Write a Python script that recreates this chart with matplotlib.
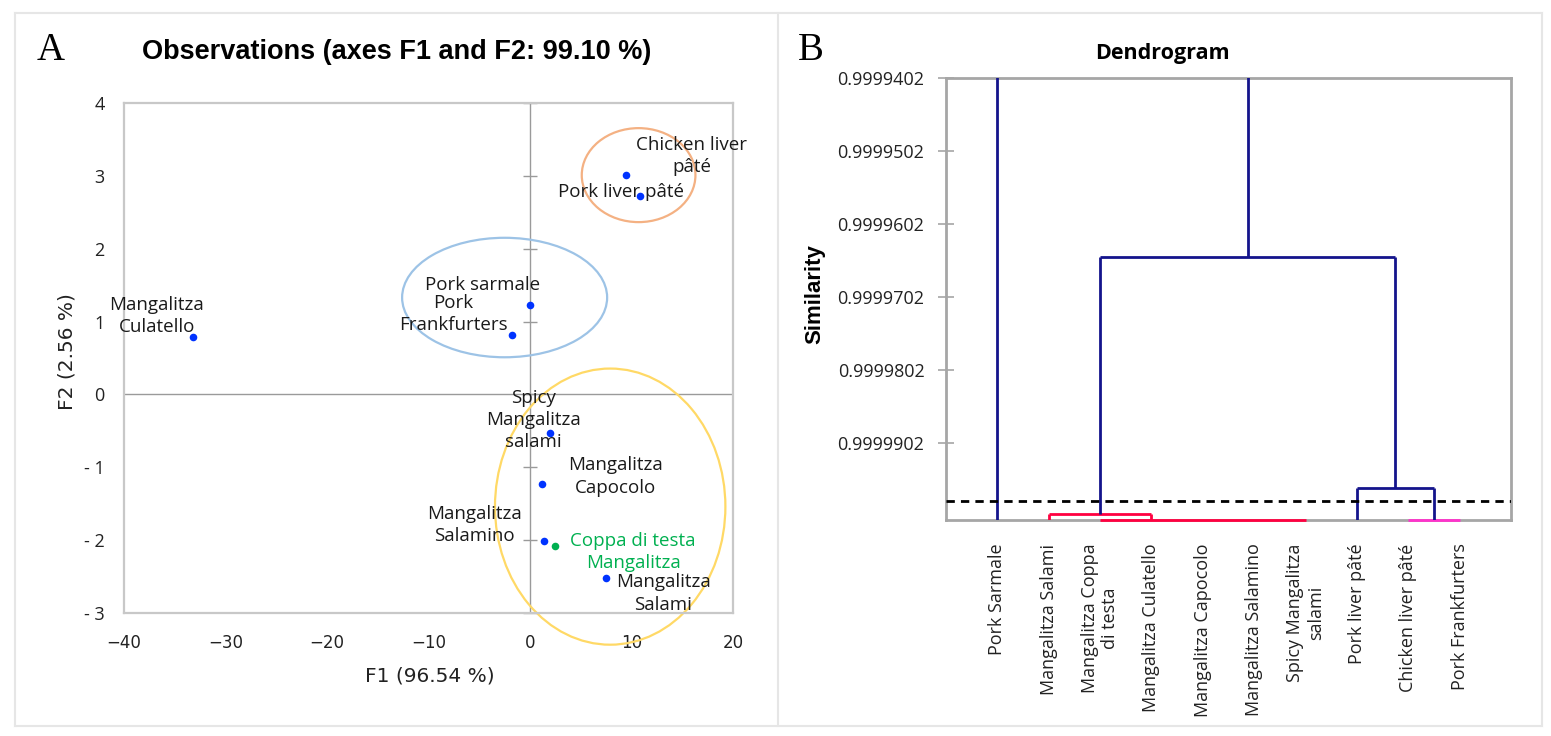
import matplotlib
matplotlib.use("Agg")
import matplotlib.pyplot as plt
from matplotlib.patches import Ellipse
from matplotlib.lines import Line2D

# ---------------- data ----------------
obs_names = ["Mangalitza\nCulatello", "Pork sarmale", "Pork\nFrankfurters",
             "Chicken liver\npâté", "Pork liver pâté", "Spicy\nMangalitza\nsalami",
             "Mangalitza\nCapocolo", "Mangalitza\nSalamino", "Coppa di testa\nMangalitza",
             "Mangalitza\nSalami"]
f1_scores = [-33.2, 0.0, -1.75, 9.5, 10.8, 1.97, 1.2, 1.4, 2.5, 7.5]
f2_scores = [0.79, 1.23, 0.82, 3.01, 2.73, -0.53, -1.23, -2.01, -2.08, -2.52]
highlight = "Coppa di testa\nMangalitza"

# group ellipses (center F1, center F2, width, height)
group_cx = [10.7, -2.5, 7.9]
group_cy = [3.01, 1.33, -1.54]
group_w = [11.2, 20.2, 22.7]
group_h = [1.29, 1.64, 3.79]
group_colors = ["#F4B183", "#9DC3E6", "#FFD966"]

x_ticks = [-40, -30, -20, -10, 0, 10, 20]
y_ticks = [-3, -2, -1, 0, 1, 2, 3, 4]

leaf_names = ["Pork Sarmale", "Mangalitza Salami", "Mangalitza Coppa\ndi testa",
              "Mangalitza Culatello", "Mangalitza Capocolo", "Mangalitza Salamino",
              "Spicy Mangalitza\nsalami", "Pork liver pâté", "Chicken liver pâté",
              "Pork Frankfurters"]
sim_top = 0.9999402
sim_base = 1.0000007
sim_ticks = [0.9999402, 0.9999502, 0.9999602, 0.9999702, 0.9999802, 0.9999902]
sim_tick_labels = ["0.9999402", "0.9999502", "0.9999602", "0.9999702", "0.9999802", "0.9999902"]
# merges: children (leaf index or 'mK'), similarity level
merge_children = [[1, 3], [2, 4, 5, 6], [8, 9], [7, "m2"], ["m0", "m3"], [0, "m4"]]
merge_levels = [0.9999999, sim_base, sim_base, 0.99999636, 0.9999647, 0.99993]
merge_colors = ["#FF0040", "#FF0040", "#FF33CC", "#14148C", "#14148C", "#14148C"]
cutoff = 0.99999815

# ---------------- figure ----------------
W, H = 1551, 736
fig = plt.figure(figsize=(W / 100, H / 100), dpi=100)
fig.patch.set_facecolor("white")


def px_axes(l, t, r, b):
    return fig.add_axes([l / W, 1 - b / H, (r - l) / W, (b - t) / H])


def fx(x):
    return x / W


def fy(y):
    return 1 - y / H


# outer frame and divider
border = "#E6E6E6"
for (x0, y0, x1, y1) in [(15, 13, 1542, 13), (15, 726, 1542, 726), (15, 13, 15, 726),
                         (1542, 13, 1542, 726), (778, 13, 778, 726)]:
    fig.add_artist(Line2D([fx(x0), fx(x1)], [fy(y0), fy(y1)], color=border, lw=1.5,
                          transform=fig.transFigure))

CAL = "Open Sans"

# ---------------- panel A ----------------
ax = px_axes(124, 103, 733, 613)
ax.set_xlim(-40, 20)
ax.set_ylim(-3, 4)
for s in ax.spines.values():
    s.set_color("#C8C8C8")
    s.set_linewidth(1.6)
ax.axhline(0, color="#9A9A9A", lw=1.0, zorder=1)
ax.axvline(0, color="#9A9A9A", lw=1.0, zorder=1)
ax.plot([0] * len(y_ticks), y_ticks, ls="none", marker="_", ms=10, mew=1.0,
        color="#9A9A9A", clip_on=False, zorder=1)

ax.set_xticks(x_ticks)
ax.set_xticklabels([f"{v}".replace("-", "\u2212") for v in x_ticks],
                   fontsize=12, family="DejaVu Sans")
ax.set_yticks(y_ticks)
ax.set_yticklabels([f"- {abs(v)}" if v < 0 else f"{v}" for v in y_ticks],
                   fontsize=13, family=CAL)
ax.tick_params(axis="both", length=0, colors="#222222")
ax.tick_params(axis="x", pad=15)
ax.tick_params(axis="y", pad=14)

for cx, cy, w, h, c in zip(group_cx, group_cy, group_w, group_h, group_colors):
    ax.add_patch(Ellipse((cx, cy), w, h, fill=False, edgecolor=c, lw=1.6,
                         clip_on=False, zorder=2))

label_offsets = [(-26, 15), (-34.5, 14.4), (-42.5, 14.8), (46.8, 14), (-13.7, 2.9),
                 (-12.2, 9.4), (52.6, 5.4), (-50.4, 11.5), (56, -4.3), (41, -11.2)]
for name, x, y, off in zip(obs_names, f1_scores, f2_scores, label_offsets):
    col = "#00B050" if name == highlight else "#0033FF"
    ax.scatter([x], [y], s=30, color=col, zorder=4, linewidths=0)
    ax.annotate(name, (x, y), xytext=off, textcoords="offset points",
                ha="center", va="center", fontsize=13.5, family=CAL,
                color="#00B050" if name == highlight else "#1a1a1a",
                linespacing=1.3, zorder=5)

fig.text(fx(430), fy(676), "F1 (96.54 %)", ha="center", va="center",
         fontsize=14.5, family="DejaVu Sans", color="#222222")
fig.text(fx(67), fy(352), "F2 (2.56 %)", ha="center", va="center", rotation=90,
         fontsize=14.5, family="DejaVu Sans", color="#222222")
fig.text(fx(397), fy(52), "Observations (axes F1 and F2: 99.10 %)", ha="center",
         va="center", fontsize=19.5, fontweight="bold", family="Liberation Sans")
fig.text(fx(37), fy(51), "A", ha="left", va="center", fontsize=28,
         family="Liberation Serif")

# ---------------- panel B ----------------
bx = px_axes(946, 78, 1511, 520)
bx.set_xlim(-1, 10)
bx.set_ylim(sim_base, sim_top)
for s in bx.spines.values():
    s.set_color("#A6A6A6")
    s.set_linewidth(2.0)
bx.set_yticks(sim_ticks)
bx.set_yticklabels(sim_tick_labels, fontsize=13, family=CAL)
bx.tick_params(axis="y", direction="inout", length=11, width=1.2, color="#A6A6A6",
               pad=10, labelcolor="#222222")
bx.set_xticks(list(range(len(leaf_names))))
bx.set_xticklabels(leaf_names, rotation=90, fontsize=13, family=CAL, color="#222222")
bx.tick_params(axis="x", length=0, pad=17)

pos = {}
lev = {}
for i in range(len(leaf_names)):
    pos[i] = float(i)
    lev[i] = sim_base
for k, (ch, lv, col) in enumerate(zip(merge_children, merge_levels, merge_colors)):
    xs = [pos[c] for c in ch]
    outside = lv < sim_top
    bx.plot([min(xs), max(xs)], [lv, lv], color=col, lw=2.0, solid_capstyle="butt",
            clip_on=outside, zorder=4)
    for c in ch:
        if lev[c] != lv:
            bx.plot([pos[c], pos[c]], [lev[c], lv], color=col, lw=2.0,
                    solid_capstyle="butt", clip_on=True, zorder=4)
    pos["m%d" % k] = (min(xs) + max(xs)) / 2
    lev["m%d" % k] = lv

bx.axhline(cutoff, color="black", lw=2.0, ls=(0, (3, 2.2)), zorder=5)

fig.text(fx(815), fy(294), "Similarity", ha="center", va="center", rotation=90,
         fontsize=16, fontweight="bold", family="Liberation Sans")
fig.text(fx(1162), fy(53), "Dendrogram", ha="center", va="center", fontsize=15.5,
         fontweight="bold", family=CAL)
fig.text(fx(798), fy(51), "B", ha="left", va="center", fontsize=28,
         family="Liberation Serif")

fig.savefig("out.png", dpi=100, facecolor="white")
